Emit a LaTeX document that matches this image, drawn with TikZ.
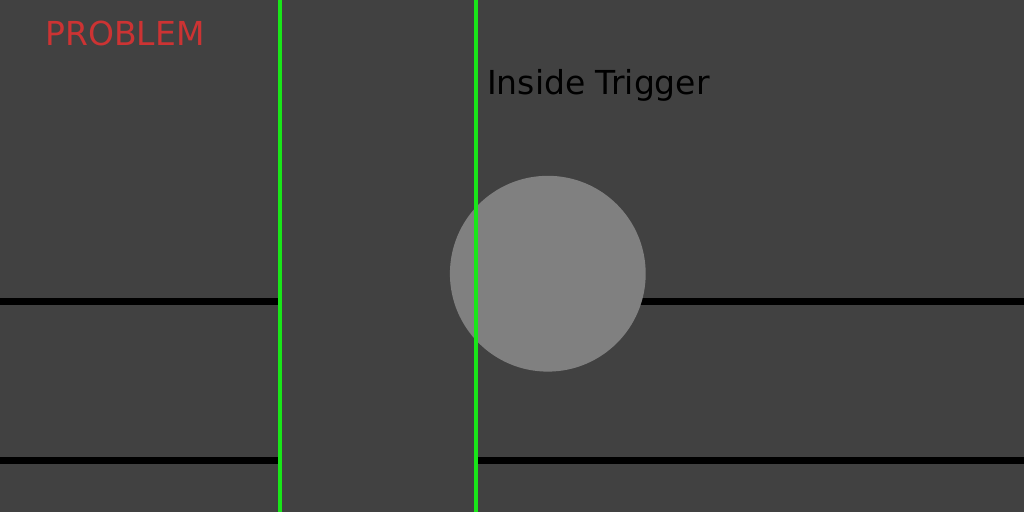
\documentclass[tikz,border=0pt]{standalone}
\usepackage{fontspec}
\setmainfont{DejaVu Sans}
\definecolor{bg}{RGB}{65,65,65}
\definecolor{ballgray}{RGB}{128,128,128}
\definecolor{trigger}{RGB}{25,230,25}
\definecolor{probred}{RGB}{204,51,51}
\begin{document}
\begin{tikzpicture}[x=1pt,y=-1pt,
  wall/.style={line width=7pt,black},
  edge/.style={line width=3.6pt,trigger},
  label/.style={inner sep=0pt,anchor=base west,font=\fontsize{33pt}{40pt}\selectfont}]
\fill[bg] (0,0) rectangle (1024,512);
\useasboundingbox (0,0) rectangle (1024,512);
% horizontal walls
\coordinate (w1a) at (0,301.5);
\coordinate (w1b) at (279,301.5);
\coordinate (w1c) at (476,301.5);
\coordinate (w1d) at (1024,301.5);
\coordinate (w2a) at (0,460.5);
\coordinate (w2b) at (279,460.5);
\coordinate (w2c) at (476,460.5);
\coordinate (w2d) at (1024,460.5);
\draw[wall] (w1a) -- (w1b);
\draw[wall] (w1c) -- (w1d);
\draw[wall] (w2a) -- (w2b);
\draw[wall] (w2c) -- (w2d);
% ball
\fill[ballgray] (547.8,273.7) circle[radius=97.9];
\node[inner sep=0pt,minimum size=0pt] (ball) at (547.8,273.7) {};
% trigger edges
\coordinate (g1t) at (279.8,0);
\coordinate (g1b) at (279.8,512);
\coordinate (g2t) at (475.9,0);
\coordinate (g2b) at (475.9,512);
\draw[edge] (g1t) -- (g1b);
\draw[edge] (g2t) -- (g2b);
% labels
\node[label,text=probred] (problem) at (45.3,45) {PROBLEM};
\node[label,text=black] (inside) at (487,94.3) {Inside Trigger};
\end{tikzpicture}
\end{document}
